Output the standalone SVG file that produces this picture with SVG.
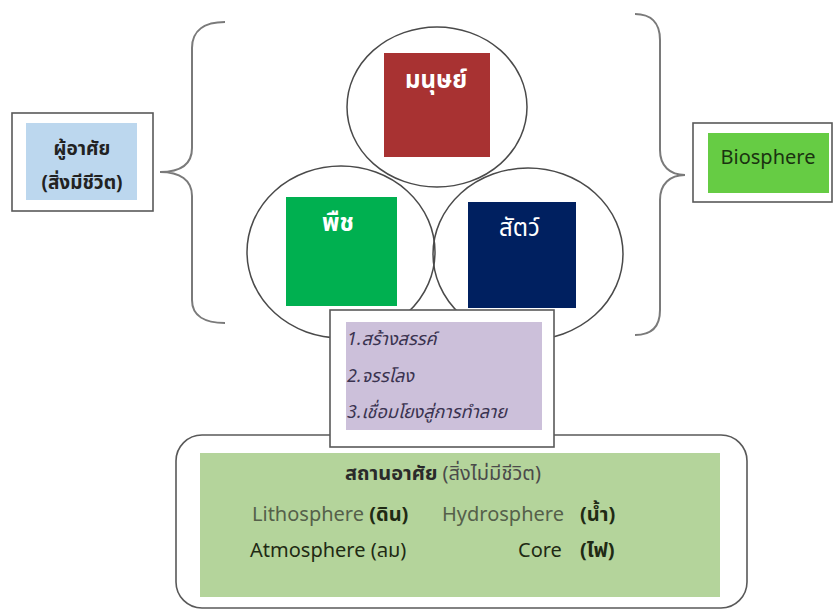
<svg xmlns="http://www.w3.org/2000/svg" width="835" height="611" viewBox="0 0 835 611">
<style>
.frame{fill:#fff;stroke:#595959;stroke-width:1.6}
.circ{fill:none;stroke:#4a4a4a;stroke-width:1.5}
.brace{fill:none;stroke:#7a7a7a;stroke-width:2}
.t{font-family:"Noto Sans","Noto Sans Thai","Liberation Sans",sans-serif}
.w{fill:#fff;font-size:24px}
.b{font-weight:bold}
.it{font-style:italic;fill:#3a3350;font-size:18px}
.g{fill:#55604a;font-size:20px}
.d{fill:#1f2a14;font-size:20px}
</style>
<rect width="835" height="611" fill="#fff"/>
<g id="connectors">
<path class="brace" d="M225,22 C205,22 192,30 192,48 L192,148 C192,165 180,172 160,172 C180,172 192,180 192,196 L192,300 C192,316 205,323 225,323"/>
<path class="brace" d="M635,14 C650,14 660,22 660,40 L660,150 C660,166 670,175 685,175 C670,175 660,184 660,200 L660,310 C660,328 650,335 635,335"/>
</g>
<g id="habitat">
<rect class="frame" x="176" y="435" width="571" height="173" rx="26"/>
<rect x="200" y="453" width="520" height="144" fill="#b4d49b"/>
<text class="t" x="443" y="480" text-anchor="middle" font-size="20" fill="#2a2a2a"><tspan font-weight="bold">สถานอาศัย</tspan> <tspan fill="#4a4a4a">(สิ่งไม่มีชีวิต)</tspan></text>
<text class="t g" x="252" y="521">Lithosphere <tspan class="d b">(ดิน)</tspan></text>
<text class="t g" x="442" y="521">Hydrosphere</text>
<text class="t d b" x="580" y="521">(น้ำ)</text>
<text class="t d" x="250" y="557">Atmosphere (ลม)</text>
<text class="t d" x="518" y="557">Core</text>
<text class="t d b" x="580" y="557">(ไฟ)</text>
</g>
<g id="plant">
<ellipse class="circ" cx="341" cy="252" rx="94" ry="86"/>
<rect x="286" y="197" width="111" height="109" fill="#00b050"/>
<text class="t w b" x="322" y="231">พืช</text>
</g>
<g id="animal">
<ellipse class="circ" cx="528" cy="254" rx="95" ry="86"/>
<rect x="468" y="202" width="108" height="106" fill="#002060"/>
<text class="t w" x="499" y="236">สัตว์</text>
</g>
<g id="human">
<ellipse class="circ" cx="437" cy="107" rx="90" ry="80"/>
<rect x="384" y="53" width="106" height="104" fill="#a83232"/>
<text class="t w b" x="436" y="88" text-anchor="middle">มนุษย์</text>
</g>
<g id="roles">
<rect class="frame" x="330" y="310" width="224" height="137"/>
<rect x="346" y="322" width="196" height="108" fill="#ccc0da"/>
<text class="t it" x="347" y="345">1.สร้างสรรค์</text>
<text class="t it" x="347" y="382">2.จรรโลง</text>
<text class="t it" x="347" y="418">3.เชื่อมโยงสู่การทำลาย</text>
</g>
<g id="inhabitant">
<rect class="frame" x="12" y="113" width="141" height="98"/>
<rect x="26" y="123" width="111" height="77" fill="#bcd7ee"/>
<text class="t b" x="82" y="155" text-anchor="middle" font-size="19" fill="#222">ผู้อาศัย</text>
<text class="t b" x="82" y="189" text-anchor="middle" font-size="19" fill="#222">(สิ่งมีชีวิต)</text>
</g>
<g id="biosphere">
<rect class="frame" x="693" y="123" width="139" height="79"/>
<rect x="708" y="133" width="121" height="60" fill="#66cc44"/>
<text class="t" x="768" y="164" text-anchor="middle" font-size="20" fill="#1a3310">Biosphere</text>
</g>
</svg>
